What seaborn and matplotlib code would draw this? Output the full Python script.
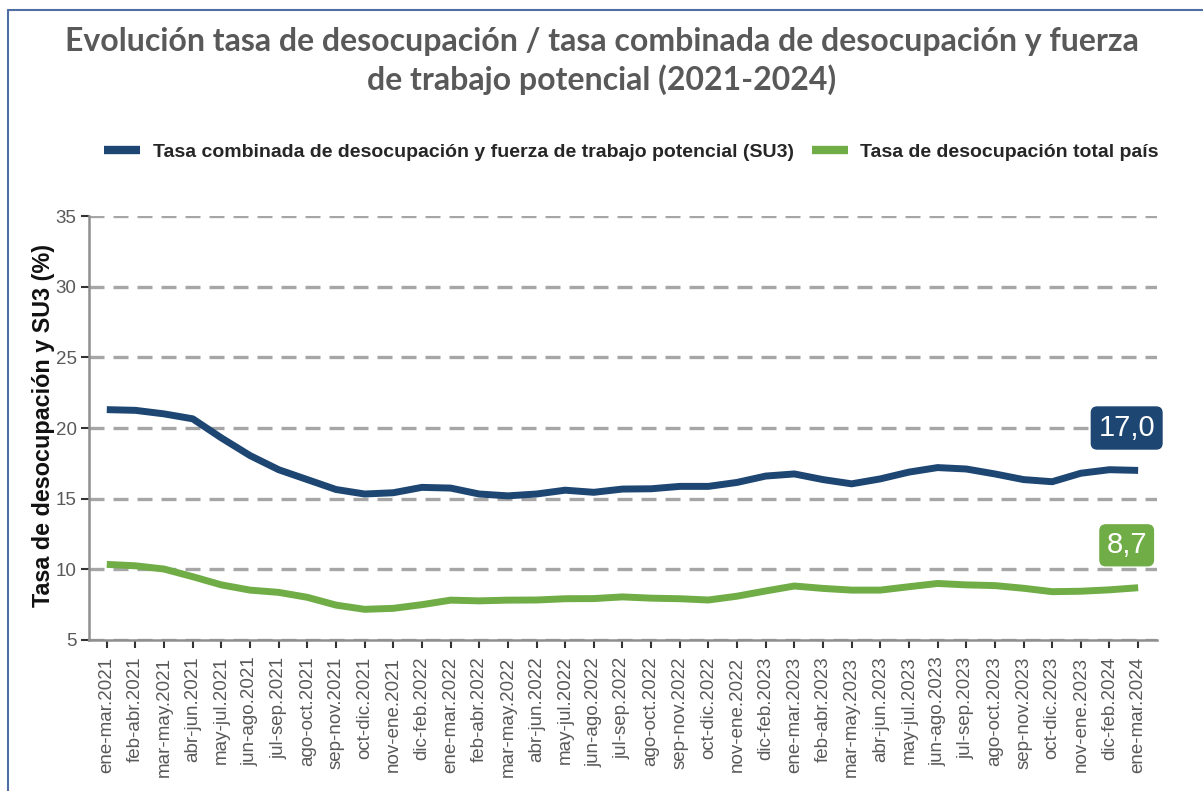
# Import libraries
import numpy as np
import pandas as pd
import matplotlib.pyplot as plt
from matplotlib.lines import Line2D
import seaborn as sns

# Data
periodos = [
    'ene-mar.2021', 'feb-abr.2021', 'mar-may.2021', 'abr-jun.2021', 'may-jul.2021',
    'jun-ago.2021', 'jul-sep.2021', 'ago-oct.2021', 'sep-nov.2021', 'oct-dic.2021',
    'nov-ene.2021', 'dic-feb.2022', 'ene-mar.2022', 'feb-abr.2022', 'mar-may.2022',
    'abr-jun.2022', 'may-jul.2022', 'jun-ago.2022', 'jul-sep.2022', 'ago-oct.2022',
    'sep-nov.2022', 'oct-dic.2022', 'nov-ene.2022', 'dic-feb.2023', 'ene-mar.2023',
    'feb-abr.2023', 'mar-may.2023', 'abr-jun.2023', 'may-jul.2023', 'jun-ago.2023',
    'jul-sep.2023', 'ago-oct.2023', 'sep-nov.2023', 'oct-dic.2023', 'nov-ene.2023',
    'dic-feb.2024', 'ene-mar.2024',
]
su3 = [21.3, 21.25, 21.0, 20.65, 19.3, 18.05, 17.05, 16.35, 15.65, 15.33,
       15.42, 15.8, 15.75, 15.33, 15.2, 15.33, 15.6, 15.45, 15.68, 15.7,
       15.87, 15.87, 16.15, 16.6, 16.75, 16.35, 16.05, 16.4, 16.88, 17.2,
       17.1, 16.75, 16.35, 16.2, 16.8, 17.05, 17.0]
desocupacion = [10.35, 10.25, 10.02, 9.48, 8.9, 8.53, 8.37, 8.02, 7.47, 7.17,
                7.24, 7.5, 7.82, 7.77, 7.82, 7.83, 7.92, 7.93, 8.05, 7.96,
                7.92, 7.83, 8.1, 8.47, 8.82, 8.65, 8.53, 8.53, 8.77, 9.0,
                8.9, 8.85, 8.66, 8.42, 8.45, 8.55, 8.7]

label_su3 = 'Tasa combinada de desocupación y fuerza de trabajo potencial (SU3)'
label_des = 'Tasa de desocupación total país'
color_su3 = '#1d4672'
color_des = '#70ad47'

df = pd.DataFrame({
    'idx': np.arange(len(periodos)),
    'su3': su3,
    'des': desocupacion,
})

# Style
sns.set_theme(style="white")
plt.rcParams['font.family'] = ['Liberation Sans', 'DejaVu Sans']

fig = plt.figure(figsize=(12.03, 7.91), dpi=100)
ax = fig.add_axes([0.074, 0.1909, 0.8878, 0.5360])

sns.lineplot(data=df, x='idx', y='su3', ax=ax, color=color_su3, lw=5,
             label=label_su3, legend=False, solid_capstyle='butt')
sns.lineplot(data=df, x='idx', y='des', ax=ax, color=color_des, lw=5,
             label=label_des, legend=False, solid_capstyle='butt')

# Axes
ax.set_xlim(-0.62, 36.66)
ax.set_ylim(5, 35)
ax.set_yticks([5, 10, 15, 20, 25, 30, 35])
ax.set_xticks(df['idx'])
ax.set_xticklabels(periodos, rotation=90, fontsize=13.5, color='#595959')
ax.tick_params(axis='y', labelsize=13.5, colors='#595959', length=6, width=1.5,
               direction='out', left=True, pad=3)
ax.tick_params(axis='x', length=6, width=1.5, direction='out', bottom=True,
               color='#333333', pad=6)
ax.tick_params(axis='y', color='#333333')
ax.set_xlabel('')
ax.set_ylabel('Tasa de desocupación y SU3 (%)', fontsize=16.8, fontweight='bold',
              color='#111111')
ax.yaxis.set_label_coords(-0.032, 0.505)

for side in ['top', 'right']:
    ax.spines[side].set_visible(False)
for side in ['left', 'bottom']:
    ax.spines[side].set_color('#8f8f8f')
    ax.spines[side].set_linewidth(1.8)

ax.yaxis.grid(True, color='#a6a6a6', lw=2.4, linestyle=(0, (4.5, 2.7)))
ax.xaxis.grid(False)
ax.set_axisbelow(True)

# Last value labels
ax.text(35.6, 20.0, '17,0', color='white', fontsize=21, ha='center', va='center',
        bbox=dict(boxstyle='round,pad=0.24,rounding_size=0.2', fc=color_su3,
                  ec=color_su3))
ax.text(35.6, 11.7, '8,7', color='white', fontsize=21, ha='center', va='center',
        bbox=dict(boxstyle='round,pad=0.22,rounding_size=0.2', fc=color_des,
                  ec=color_des))

# Legend
handles = [Line2D([0], [0], color=color_su3, lw=6, solid_capstyle='butt'),
           Line2D([0], [0], color=color_des, lw=6, solid_capstyle='butt')]
fig.legend(handles, [label_su3, label_des], loc='center', ncol=2,
           bbox_to_anchor=(0.525, 1 - 152 / 791), frameon=False,
           prop={'size': 14, 'weight': 'bold'},
           handlelength=1.85, handletextpad=0.65, columnspacing=0.9)

# Title
fig.text(0.5, 1 - 42 / 791,
         'Evolución tasa de desocupación / tasa combinada de desocupación y fuerza',
         ha='center', va='center', fontsize=23, fontweight='bold',
         color='#595959', family=['Lato', 'DejaVu Sans'])
fig.text(0.5, 1 - 80 / 791, 'de trabajo potencial (2021-2024)',
         ha='center', va='center', fontsize=23, fontweight='bold',
         color='#595959', family=['Lato', 'DejaVu Sans'])

# Outer frame
fig.add_artist(Line2D([8 / 1203, 8 / 1203], [0, 1 - 10 / 791], color='#4f6fa3',
                      lw=1.5, transform=fig.transFigure))
fig.add_artist(Line2D([8 / 1203, 1], [1 - 10 / 791, 1 - 10 / 791], color='#4f6fa3',
                      lw=1.5, transform=fig.transFigure))

plt.savefig('out.png', dpi=100)
plt.close()
